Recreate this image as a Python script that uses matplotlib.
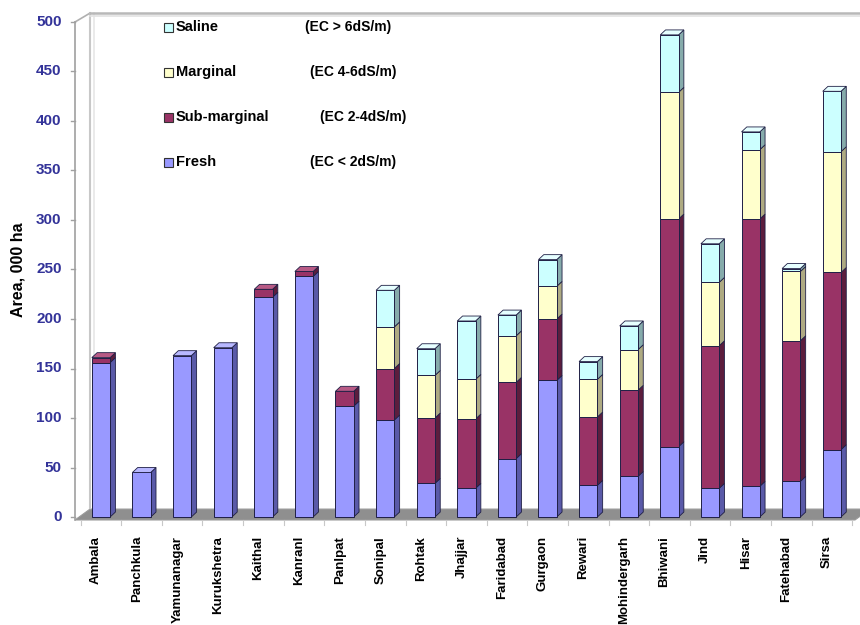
import matplotlib
matplotlib.use("Agg")
import matplotlib.pyplot as plt
from matplotlib.patches import Rectangle, Polygon

plt.rcParams['font.family'] = ['Liberation Sans', 'DejaVu Sans']

districts = ["Ambala", "Panchkula", "Yamunanagar", "Kurukshetra", "Kaithal", "Kanranl",
             "Panlpat", "Sonipal", "Rohtak", "Jhajjar", "Faridabad", "Gurgaon", "Rewari",
             "Mohindergarh", "Bhiwani", "Jind", "Hisar", "Fatehabad", "Sirsa"]
fresh = [156, 45, 163, 171, 222, 243, 112, 98, 34, 29, 59, 138, 32, 41, 71, 29, 31, 36, 68]
sub_marginal = [5, 0, 0, 0, 8, 5, 15, 52, 66, 70, 77, 62, 69, 87, 230, 144, 270, 142, 179]
marginal = [0, 0, 0, 0, 0, 0, 0, 42, 43, 40, 47, 33, 38, 41, 128, 64, 70, 70, 122]
saline = [0, 0, 0, 0, 0, 0, 0, 37, 27, 59, 21, 27, 18, 24, 58, 39, 18, 3, 61]

series_names = ["Saline", "Marginal", "Sub-marginal", "Fresh"]
series_ranges = ["(EC > 6dS/m)", "(EC 4-6dS/m)", "(EC 2-4dS/m)", "(EC < 2dS/m)"]
y_ticks = [0, 50, 100, 150, 200, 250, 300, 350, 400, 450, 500]

# front, side, top colours per layer (bottom to top)
styles = [
    ("#9999ff", "#5a5aa8", "#b8b8ff"),   # fresh
    ("#993366", "#5c1d3d", "#b85a85"),   # sub-marginal
    ("#ffffcc", "#aeaa82", "#ffffe6"),   # marginal
    ("#ccffff", "#86abab", "#e6ffff"),   # saline
]
edge = "#1f1f45"

W, H = 860, 625
fig = plt.figure(figsize=(W / 100, H / 100), dpi=100)

# axes box in pixels: left 75, right 855, y=0 at 517, y=500 at 22
ax = fig.add_axes([75 / W, (H - 517) / H, 780 / W, 495 / H])
xmin, xmax = -0.64, 18.57
ax.set_xlim(xmin, xmax)
ax.set_ylim(0, 500)
for s in ax.spines.values():
    s.set_visible(False)
ax.set_xticks([])
ax.set_yticks([])

wall_dx, wall_dy = 0.37, 9.0   # depth of the back wall
bar_w = 0.45
bdx, bdy = 0.13, 5.0           # depth of each bar

# back wall outline
ax.plot([xmin, xmin + wall_dx], [500, 500 + wall_dy], color="#b0b0b0", lw=1.2, clip_on=False)
ax.plot([xmin + wall_dx, xmin + wall_dx], [wall_dy, 500 + wall_dy], color="#c8c8c8", lw=1.5, clip_on=False)
ax.plot([xmin + wall_dx + 0.1, xmin + wall_dx + 0.1], [wall_dy, 500 + wall_dy], color="#e6e6e6", lw=1.2, clip_on=False)
ax.plot([xmin + wall_dx, xmax + 0.2], [500 + wall_dy, 500 + wall_dy], color="#b8b8b8", lw=1.8, clip_on=False)
ax.plot([xmin + wall_dx, xmax + 0.2], [500 + wall_dy - 2.5, 500 + wall_dy - 2.5], color="#e2e2e2", lw=1.2, clip_on=False)

# floor
floor = Polygon([(xmin, -3), (xmax, -3), (xmax + wall_dx, wall_dy - 1), (xmin + wall_dx, wall_dy - 1)],
                closed=True, fc="#8f8f8f", ec="#9a9a9a", lw=0.8, clip_on=False, zorder=1)
ax.add_patch(floor)

# front axis line with ticks
ax.plot([xmin, xmin], [-3, 500], color="#a0a0a0", lw=1.2, clip_on=False)
for t in y_ticks:
    ax.plot([xmin - 0.1, xmin], [t, t], color="#a0a0a0", lw=1.0, clip_on=False)
    ax.text(xmin - 0.33, t, str(t), ha="right", va="center", fontsize=11,
            fontweight="bold", color="#333399")
for i in range(len(districts) + 1):
    xb = i - 0.5
    ax.plot([xb, xb], [-3, -8], color="#c8c8c8", lw=0.8, clip_on=False)

layers = [fresh, sub_marginal, marginal, saline]
for i in range(len(districts)):
    x0 = i - bar_w / 2
    x1 = i + bar_w / 2
    bottom = 0.0
    segs = []
    for li, layer in enumerate(layers):
        h = layer[i]
        if h > 0:
            segs.append((li, bottom, h))
            bottom += h
    for k, (li, b, h) in enumerate(segs):
        front, side, top = styles[li]
        ax.add_patch(Polygon([(x1, b), (x1 + bdx, b + bdy), (x1 + bdx, b + h + bdy), (x1, b + h)],
                             closed=True, fc=side, ec=edge, lw=0.6, zorder=3, clip_on=False))
        ax.add_patch(Rectangle((x0, b), bar_w, h, fc=front, ec=edge, lw=0.7, zorder=4, clip_on=False))
        if k == len(segs) - 1:
            t = b + h
            ax.add_patch(Polygon([(x0, t), (x0 + bdx, t + bdy), (x1 + bdx, t + bdy), (x1, t)],
                                 closed=True, fc=top, ec=edge, lw=0.6, zorder=4, clip_on=False))
    ax.text(i - 0.12, -19, districts[i], rotation=90, ha="center", va="top",
            fontsize=9.5, fontweight="bold", color="black")

# y axis title
fig.text(18 / W, 1 - 270 / H, "Area, 000 ha", rotation=90, ha="center", va="center",
         fontsize=11.5, fontweight="bold", color="black")

# legend
legend_colors = [styles[3][0], styles[2][0], styles[1][0], styles[0][0]]
legend_rows_y = [27, 72, 117, 162]
range_x = [305, 310, 320, 310]
for name, rng, col, yy, rx in zip(series_names, series_ranges, legend_colors, legend_rows_y, range_x):
    sq = Rectangle((164 / W, 1 - (yy + 4.5) / H), 9 / W, 9 / H, transform=fig.transFigure,
                   fc=col, ec="#333333", lw=0.8)
    fig.patches.append(sq)
    fig.text(176 / W, 1 - yy / H, name, ha="left", va="center", fontsize=10.5,
             fontweight="bold", color="black")
    fig.text(rx / W, 1 - yy / H, rng, ha="left", va="center", fontsize=10,
             fontweight="bold", color="black")

fig.savefig("out.png", dpi=100)
